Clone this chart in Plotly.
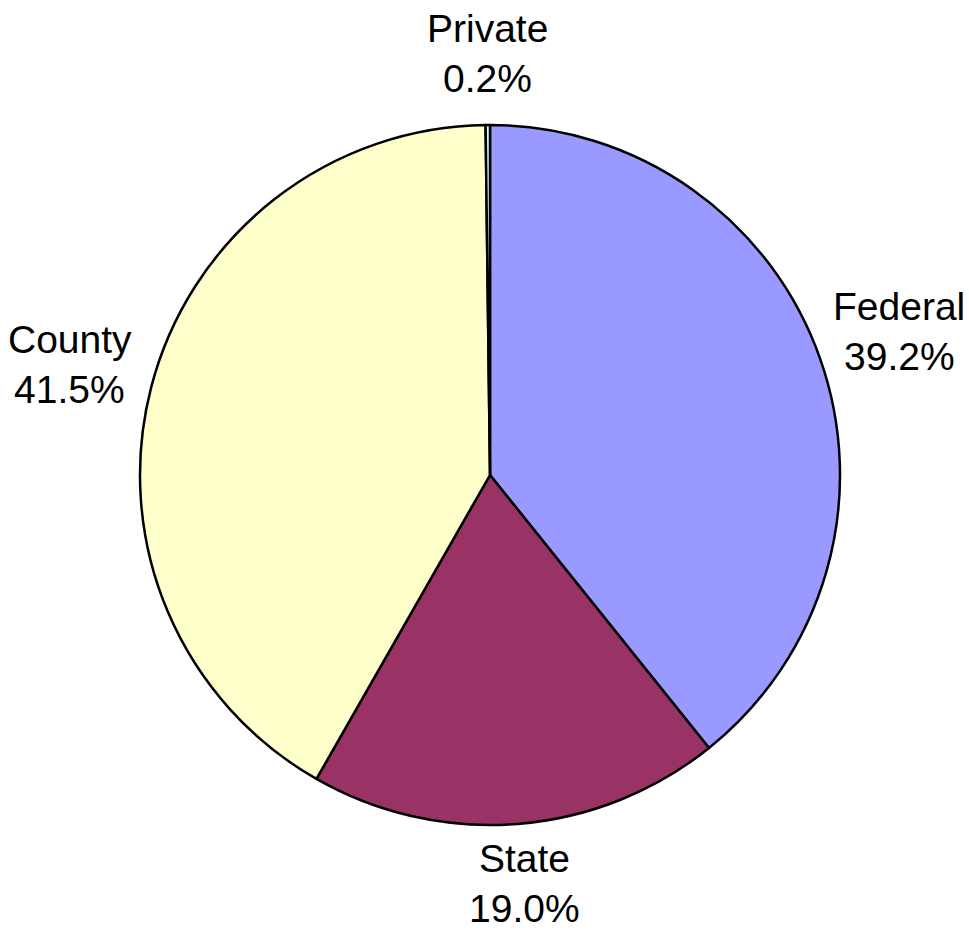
import math
import plotly.graph_objects as go

# Share of funding by source (percent)
labels = ["Federal", "State", "County", "Private"]
values = [39.2, 19.0, 41.5, 0.2]
colors = ["#9999FF", "#993366", "#FFFFCC", "#CCFFFF"]

W, H = 969, 937
cx, cy, R = 490, 475, 350          # pie centre and radius in pixels
label_rx, label_ry = 434, 416       # ellipse on which label centres sit
label_lift = 6                      # raise labels so glyphs sit centred on the ellipse
line_gap = 25                       # half the spacing between label lines

fig = go.Figure(
    go.Pie(
        labels=labels,
        values=values,
        sort=False,
        direction="clockwise",
        rotation=0,
        marker=dict(colors=colors, line=dict(color="black", width=2.5)),
        textinfo="none",
        hoverinfo="label+percent",
        showlegend=False,
        domain=dict(
            x=[(cx - R) / W, (cx + R) / W],
            y=[(H - (cy + R)) / H, (H - (cy - R)) / H],
        ),
    )
)

font = dict(family="Liberation Sans, Arial, sans-serif", size=39, color="black")

# Outside labels placed at each slice's mid-angle: name above, percentage below
total = sum(values)
cum = 0.0
for lab, v in zip(labels, values):
    mid = (cum + v / 2) / total * 2 * math.pi
    cum += v
    px = cx + label_rx * math.sin(mid)
    py = cy - label_ry * math.cos(mid) - label_lift
    for txt, shift in ((lab, line_gap), (f"{v:.1f}%", -line_gap)):
        fig.add_annotation(
            x=px / W,
            y=1 - py / H,
            xref="paper",
            yref="paper",
            text=txt,
            showarrow=False,
            xanchor="center",
            yanchor="middle",
            yshift=shift,
            font=font,
        )

fig.update_layout(
    width=W,
    height=H,
    margin=dict(l=0, r=0, t=0, b=0),
    paper_bgcolor="white",
    plot_bgcolor="white",
)

fig.write_html("out.html")
